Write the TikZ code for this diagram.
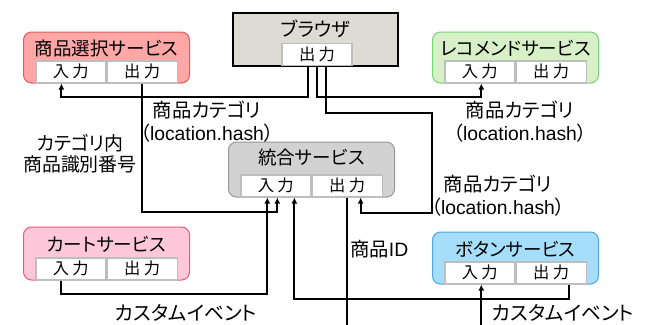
\documentclass[tikz,border=0pt]{standalone}
\usepackage{fontspec}
\setmainfont{Liberation Sans}
\newfontfamily\cjk[RawFeature=+palt]{Noto Sans CJK JP}
\usetikzlibrary{arrows.meta,calc}
\definecolor{selfill}{RGB}{255,166,166}
\definecolor{seldraw}{RGB}{230,90,90}
\definecolor{recfill}{RGB}{216,240,200}
\definecolor{recdraw}{RGB}{120,210,120}
\definecolor{cartfill}{RGB}{255,200,218}
\definecolor{cartdraw}{RGB}{235,90,110}
\definecolor{butfill}{RGB}{165,222,250}
\definecolor{butdraw}{RGB}{80,165,225}
\definecolor{togfill}{RGB}{210,210,210}
\definecolor{togdraw}{RGB}{150,150,150}
\definecolor{brofill}{RGB}{222,218,212}
\definecolor{celldraw}{RGB}{190,190,190}
\begin{document}
\begin{tikzpicture}[x=0.75pt,y=-0.75pt,
  svc/.style={draw=#1draw, fill=#1fill, rounded corners=6pt, line width=0.75pt,
    minimum width=124.5pt, minimum height=38.25pt, inner sep=0pt},
  cell/.style={draw=celldraw, fill=white, line width=1pt, minimum width=52.5pt,
    minimum height=16.5pt, inner sep=0pt, font=\cjk\fontsize{12.2}{13}\selectfont},
  title/.style={font=\cjk\fontsize{13.9}{15}\selectfont, inner sep=0pt},
  lbl/.style={font=\cjk\fontsize{14.5}{17.25}\selectfont, align=center, inner sep=0pt},
  wire/.style={line width=1.5pt},
  arr/.style={wire, -{Latex[length=4.5pt,width=4.5pt]}}]
\useasboundingbox (0,0) rectangle (650,325);
\newcommand\inp{入\hspace{2.5pt}力}
\newcommand\outp{出\hspace{2.5pt}力}
\newcommand\lochash{\cjk（\rmfamily location.hash\cjk）}

% browser
\node[draw=black, fill=brofill, line width=1.5pt, minimum width=123.75pt,
  minimum height=39.75pt, inner sep=0pt] (bro) at (315.5,39.5) {};
\node[title, font=\cjk\fontsize{14.5}{15}\selectfont] (brot) at (315.5,29) {ブラウザ};
\node[cell, anchor=south] (broout) at (317,66) {\outp};

% product selection
\node[svc=sel] (sel) at (106.5,57.5) {};
\node[title] (selt) at (106.5,48.5) {商品選択サービス};
\node[cell, anchor=south east] (selin) at (sel.south) {\inp};
\node[cell, anchor=south west] (selout) at (sel.south) {\outp};

% recommend
\node[svc=rec] (rec) at (515.5,57.5) {};
\node[title] (rect) at (515.5,48.5) {レコメンドサービス};
\node[cell, anchor=south east] (recin) at (rec.south) {\inp};
\node[cell, anchor=south west] (recout) at (rec.south) {\outp};

% integrated
\node[svc=tog, minimum height=41.25pt] (tog) at (311.5,169.5) {};
\node[title] (togt) at (311.5,157.5) {統合サービス};
\node[cell, anchor=south east] (togin) at (tog.south) {\inp};
\node[cell, anchor=south west] (togout) at (tog.south) {\outp};

% cart
\node[svc=cart, minimum height=39.75pt] (cart) at (106.5,253.5) {};
\node[title] (cartt) at (106.5,244) {カートサービス};
\node[cell, anchor=south east] (cartin) at (cart.south) {\inp};
\node[cell, anchor=south west] (cartout) at (cart.south) {\outp};

% button
\node[svc=but, minimum height=39pt] (but) at (515.5,258) {};
\node[title] (butt) at (515.5,249.5) {ボタンサービス};
\node[cell, anchor=south east] (butin) at (but.south) {\inp};
\node[cell, anchor=south west] (butout) at (but.south) {\outp};

\coordinate (bot) at (0,327);

% connectors
\draw[arr] ([xshift=-6.75pt]broout.south) -- ++(0,31) -| ([xshift=-7.1pt]selin.south);
\draw[arr] (broout.south) -- ++(0,31) -| ([xshift=1.1pt]recin.south);
\draw[arr] ([xshift=6.75pt]broout.south) -- ++(0,47) -- ++(106,0) -- ++(0,100)
  -| ([xshift=10.1pt]togout.south);
\draw[arr] (selout.south) -- ++(0,128) -| ([xshift=1.1pt]togin.south);
\draw[arr] ([xshift=-7.1pt]cartin.south) -- ++(0,13) -| ([xshift=-6.4pt]togin.south);
\draw[arr] ([xshift=13.1pt]butout.south) -- ++(0,14) -| ([xshift=13.9pt]togin.south);
\draw[wire] (togout.south) -- (togout.south |- bot);
\draw[arr] ([xshift=1.1pt]butin.south |- bot) -- ([xshift=1.1pt]butin.south);

% labels
\node[lbl] (l1) at (207,121.5) {商品カテゴリ\\\lochash};
\node[lbl] (l2) at (520,121.5) {商品カテゴリ\\\lochash};
\node[lbl] (l3) at (498,196) {商品カテゴリ\\\lochash};
\node[lbl, font=\cjk\fontsize{14.2}{15.75}\selectfont] (l4) at (80,153.5) {カテゴリ内\\商品識別番号};
\node[lbl, font=\cjk\fontsize{14.8}{16}\selectfont] (l5) at (186,313) {カスタムイベント};
\node[lbl, font=\cjk\fontsize{14.8}{16}\selectfont] (l6) at (563,313) {カスタムイベント};
\node[lbl, anchor=west] (l7) at (350,249) {商品\rmfamily ID};
\end{tikzpicture}
\end{document}
